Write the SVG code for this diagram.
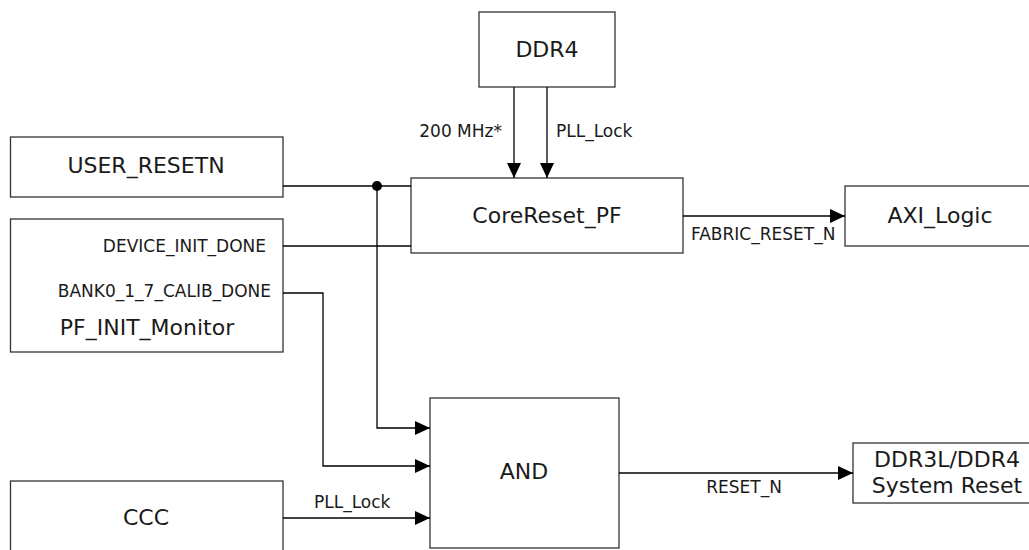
<svg xmlns="http://www.w3.org/2000/svg" width="1029" height="550" viewBox="0 0 1029 550">
<defs>
<marker id="arr" viewBox="0 0 15 14" refX="15" refY="7" markerWidth="15" markerHeight="14" markerUnits="userSpaceOnUse" orient="auto">
<path d="M0,0 L15,7 L0,14 Z" fill="#000"/>
</marker>
<style>
.box{fill:#fff;stroke:#333;stroke-width:1.3}
.big{font-family:"DejaVu Sans",Verdana,sans-serif;font-size:22px;fill:#1a1a1a}
.sm{font-family:"DejaVu Sans",Verdana,sans-serif;font-size:17px;fill:#1a1a1a}
.c{fill:none;stroke:#000;stroke-width:1.3}
</style>
</defs>
<rect width="1029" height="550" fill="#fff"/>
<g id="ddr4"><rect class="box" x="479" y="12" width="136" height="75"/><text class="big" x="547" y="57" text-anchor="middle">DDR4</text></g>
<g id="user_resetn"><rect class="box" x="10.5" y="137" width="272.5" height="60"/><text class="big" x="146" y="173" text-anchor="middle">USER_RESETN</text></g>
<g id="pf_init_monitor"><rect class="box" x="10.5" y="219" width="272.5" height="133"/>
<text class="sm" x="266" y="252" text-anchor="end">DEVICE_INIT_DONE</text>
<text class="sm" x="271" y="297" text-anchor="end">BANK0_1_7_CALIB_DONE</text>
<text class="big" x="147" y="335" text-anchor="middle">PF_INIT_Monitor</text></g>
<g id="corereset_pf"><rect class="box" x="411" y="178" width="272" height="75"/><text class="big" x="547" y="223" text-anchor="middle">CoreReset_PF</text></g>
<g id="axi_logic"><rect class="box" x="845" y="186" width="200" height="60"/><text class="big" x="940" y="223" text-anchor="middle">AXI_Logic</text></g>
<g id="and"><rect class="box" x="430" y="398" width="189" height="150"/><text class="big" x="524" y="479" text-anchor="middle">AND</text></g>
<g id="ddr_sys_reset"><rect class="box" x="853" y="443" width="190" height="60"/><text class="big" x="947" y="467" text-anchor="middle">DDR3L/DDR4</text><text class="big" x="947" y="493" text-anchor="middle">System Reset</text></g>
<g id="ccc"><rect class="box" x="10.5" y="481" width="272.5" height="100"/><text class="big" x="146" y="525" text-anchor="middle">CCC</text></g>
<g id="connectors">
<path class="c" d="M514,87 V178" marker-end="url(#arr)"/>
<path class="c" d="M547,87 V178" marker-end="url(#arr)"/>
<text class="sm" x="502" y="137" text-anchor="end">200 MHz*</text>
<text class="sm" x="556" y="137">PLL_Lock</text>
<path class="c" d="M283,186 H411"/>
<path class="c" d="M283,246 H411"/>
<circle cx="377" cy="186" r="5" fill="#000"/>
<path class="c" d="M377,186 V428 H430" marker-end="url(#arr)"/>
<path class="c" d="M283,293 H323 V466 H430" marker-end="url(#arr)"/>
<path class="c" d="M283,518 H430" marker-end="url(#arr)"/>
<text class="sm" x="314" y="508">PLL_Lock</text>
<path class="c" d="M683,216 H845" marker-end="url(#arr)"/>
<text class="sm" x="691" y="240">FABRIC_RESET_N</text>
<path class="c" d="M619,473 H853" marker-end="url(#arr)"/>
<text class="sm" x="744" y="493" text-anchor="middle">RESET_N</text>
</g>
</svg>
